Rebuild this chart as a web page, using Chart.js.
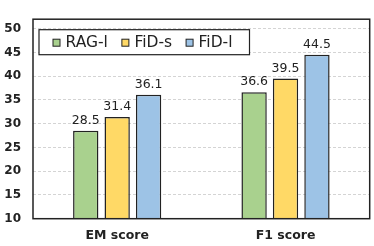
<!DOCTYPE html>
<html><head><meta charset="utf-8">
<script src="https://cdn.jsdelivr.net/npm/chart.js@4/dist/chart.umd.min.js"></script>
<style>html,body{margin:0;padding:0;background:#fff}#wrap{width:374px;height:246px;position:relative}</style>
</head><body><div id="wrap"><canvas id="c" width="374" height="246"></canvas></div>
<script>
const categories = ["EM score", "F1 score"];
const seriesNames = ["RAG-l", "FiD-s", "FiD-l"];
const ragL = [28.5, 36.6];
const fidS = [31.4, 39.5];
const fidL = [36.1, 44.5];
const yTicks = [10, 15, 20, 25, 30, 35, 40, 45, 50];
const colors = ["#a9d18e", "#ffd966", "#9dc3e6"];
const FONT = "'DejaVu Sans', sans-serif";

const labelsPlugin = {
  id: 'valLabels',
  afterDatasetsDraw(chart) {
    const ctx = chart.ctx;
    ctx.save();
    ctx.font = "12.5px " + FONT;
    ctx.fillStyle = "#222";
    ctx.textAlign = "center";
    ctx.textBaseline = "alphabetic";
    chart.data.datasets.forEach((ds, i) => {
      chart.getDatasetMeta(i).data.forEach((bar, j) => {
        ctx.fillText(ds.data[j].toFixed(1), bar.x, bar.y - 7);
      });
    });
    ctx.restore();
  }
};
const framePlugin = {
  id: 'frame',
  afterDraw(chart) {
    const {ctx, chartArea: a} = chart;
    ctx.save();
    ctx.strokeStyle = "#222";
    ctx.lineWidth = 1.5;
    ctx.strokeRect(a.left, a.top, a.right - a.left, a.bottom - a.top);
    // legend
    const lx = a.left + 6, ly = a.top + 10.5, lw = 210.5, lh = 25;
    ctx.fillStyle = "#fff";
    ctx.fillRect(lx, ly, lw, lh);
    ctx.lineWidth = 1.2;
    ctx.strokeRect(lx, ly, lw, lh);
    ctx.font = "15.5px " + FONT;
    ctx.textBaseline = "middle";
    ctx.textAlign = "left";
    let x = lx + 14;
    const cy = ly + lh / 2 + 0.5;
    chart.data.datasets.forEach((ds, i) => {
      ctx.fillStyle = ds.backgroundColor;
      ctx.fillRect(x, cy - 3.5, 7, 7);
      ctx.lineWidth = 1;
      ctx.strokeStyle = "#222";
      ctx.strokeRect(x, cy - 3.5, 7, 7);
      x += 12.5;
      ctx.fillStyle = "#222";
      ctx.fillText(ds.label, x, cy);
      x += ctx.measureText(ds.label).width + 14;
    });
    ctx.restore();
  }
};

new Chart(document.getElementById('c'), {
  type: 'bar',
  data: {
    labels: categories,
    datasets: [
      {label: seriesNames[0], data: ragL, backgroundColor: colors[0]},
      {label: seriesNames[1], data: fidS, backgroundColor: colors[1]},
      {label: seriesNames[2], data: fidL, backgroundColor: colors[2]}
    ].map(d => Object.assign(d, {borderColor: "#222", borderWidth: 1.5, borderSkipped: false,
       categoryPercentage: 0.56, barPercentage: 0.806}))
  },
  options: {
    responsive: false,
    animation: false,
    devicePixelRatio: 1,
    layout: {padding: {left: 0, right: 4.3, top: 13, bottom: 0}},
    plugins: {legend: {display: false}, tooltip: {enabled: false}},
    scales: {
      x: {
        grid: {display: false, drawTicks: false},
        border: {display: false},
        ticks: {font: {family: FONT, size: 12.5, weight: 'bold'}, color: "#222", padding: 10},
        afterFit(s) { s.height = 27.3; }
      },
      y: {
        min: 10, max: 52,
        afterBuildTicks(s) { s.ticks = yTicks.map(v => ({value: v})); },
        grid: {
          color: c => (c.tick && c.tick.value > 10 && c.tick.value < 52) ? "#d4d4d4" : "rgba(0,0,0,0)",
          drawTicks: false, lineWidth: 1
        },
        border: {display: false, dash: [3, 2]},
        ticks: {font: {family: FONT, size: 12, weight: 'bold'}, color: "#222", padding: 12},
        afterFit(s) { s.width = 33; }
      }
    }
  },
  plugins: [labelsPlugin, framePlugin]
});
</script></body></html>
